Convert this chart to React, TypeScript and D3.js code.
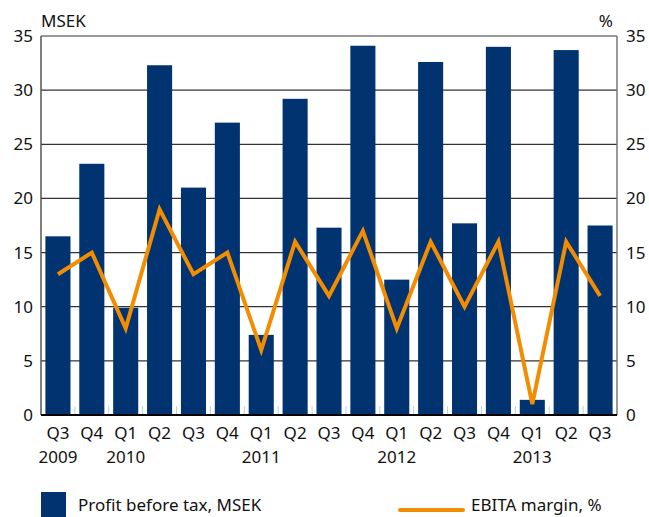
import * as d3 from 'd3';

const quarters = ['Q3', 'Q4', 'Q1', 'Q2', 'Q3', 'Q4', 'Q1', 'Q2', 'Q3', 'Q4', 'Q1', 'Q2', 'Q3', 'Q4', 'Q1', 'Q2', 'Q3'];
const years = ['2009', '', '2010', '', '', '', '2011', '', '', '', '2012', '', '', '', '2013', '', ''];
const profit = [16.5, 23.2, 9.9, 32.3, 21.0, 27.0, 7.4, 29.2, 17.3, 34.1, 12.5, 32.6, 17.7, 34.0, 1.4, 33.7, 17.5];
const ebitaMargin = [13, 15, 8, 19, 13, 15, 6, 16, 11, 17, 8, 16, 10, 16, 1, 16, 11];
const ticks = [0, 5, 10, 15, 20, 25, 30, 35];

const W = 649;
const H = 517;
const margin = { top: 36, right: 32, bottom: 102, left: 41 };
const FONT = '"Noto Sans", "DejaVu Sans", sans-serif';
const BLUE = '#003370';
const ORANGE = '#F28C00';

export default function App() {
  const innerW = W - margin.left - margin.right;
  const innerH = H - margin.top - margin.bottom;
  const ids = quarters.map((_, i) => String(i));

  const x = d3.scaleBand().domain(ids).range([0, innerW]).paddingInner(0.26).paddingOuter(0.13);
  const y = d3.scaleLinear().domain([0, 35]).range([innerH, 0]);

  const line = d3
    .line<number>()
    .x((_, i) => x(String(i))! + x.bandwidth() / 2)
    .y((d) => y(d));

  const step = x.step();

  return (
    <svg
      width={W}
      height={H}
      style={{ position: 'absolute', left: 0, top: 0, background: '#fff' }}
      fontFamily={FONT}
    >
      <g transform={`translate(${margin.left},${margin.top})`}>
        {ticks.slice(1, -1).map((t) => (
          <line key={t} x1={0} x2={innerW} y1={y(t)} y2={y(t)} stroke="#333" strokeWidth={1.2} />
        ))}
        <line x1={0} x2={innerW} y1={0} y2={0} stroke="#777" strokeWidth={1.5} />
        <line x1={innerW} x2={innerW} y1={0} y2={innerH} stroke="#777" strokeWidth={1.5} />
        {profit.map((v, i) => (
          <rect
            key={i}
            x={x(String(i))!}
            y={y(v)}
            width={x.bandwidth()}
            height={innerH - y(v)}
            fill={BLUE}
          />
        ))}
        {ids.slice(1).map((id) => (
          <line
            key={id}
            x1={x(id)! - (step - x.bandwidth()) / 2}
            x2={x(id)! - (step - x.bandwidth()) / 2}
            y1={innerH - 9}
            y2={innerH}
            stroke="#b9d2e8"
            strokeWidth={1}
          />
        ))}
        <path d={line(ebitaMargin) ?? ''} fill="none" stroke={ORANGE} strokeWidth={4} strokeLinejoin="miter" />
        <line x1={0} x2={0} y1={0} y2={innerH} stroke="#555" strokeWidth={1.5} />
        <line x1={0} x2={innerW} y1={innerH} y2={innerH} stroke="#000" strokeWidth={2} />

        {ticks.map((t) => (
          <g key={t}>
            <text x={-8} y={y(t) + 6} textAnchor="end" fontSize={17} fill="#111">
              {t}
            </text>
            <text x={innerW + 9} y={y(t) + 6} textAnchor="start" fontSize={17} fill="#111">
              {t}
            </text>
          </g>
        ))}
        <text x={0} y={-9} fontSize={17} fill="#111">
          MSEK
        </text>
        <text x={innerW - 4} y={-9} textAnchor="end" fontSize={17} fill="#111">
          %
        </text>

        {quarters.map((q, i) => (
          <text
            key={i}
            x={x(String(i))! + x.bandwidth() / 2}
            y={innerH + 24}
            textAnchor="middle"
            fontSize={17}
            fill="#111"
          >
            {q}
          </text>
        ))}
        {years.map((yr, i) =>
          yr ? (
            <text
              key={'y' + i}
              x={x(String(i))! + x.bandwidth() / 2}
              y={innerH + 48}
              textAnchor="middle"
              fontSize={17}
              fill="#111"
            >
              {yr}
            </text>
          ) : null
        )}
      </g>

      <rect x={41} y={492} width={25} height={30} fill={BLUE} />
      <text x={78} y={511} fontSize={17} fill="#111">
        Profit before tax, MSEK
      </text>
      <line x1={400} x2={463} y1={510} y2={510} stroke={ORANGE} strokeWidth={4} strokeLinecap="round" />
      <text x={471} y={511} fontSize={17} fill="#111">
        EBITA margin, %
      </text>
    </svg>
  );
}
